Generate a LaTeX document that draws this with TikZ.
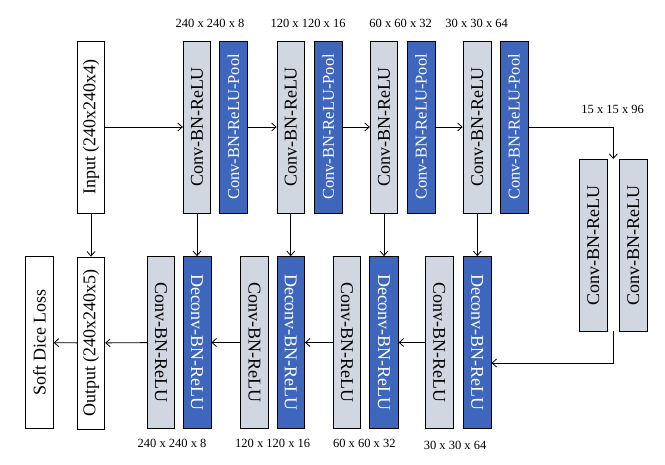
\documentclass[tikz,border=0pt]{standalone}
\usepackage{fontspec}
\setmainfont{Liberation Serif}
\usepackage{graphicx}
\usetikzlibrary{arrows.meta}
\definecolor{boxgray}{HTML}{D0D7E1}
\definecolor{boxblue}{HTML}{3D66BC}
\tikzset{
  box/.style={draw=black, line width=0.8pt, minimum width=27.5pt, minimum height=172pt, inner sep=0pt, font=\fontsize{18}{20}\selectfont},
  graybox/.style={box, fill=boxgray},
  bluebox/.style={box, fill=boxblue, text=white},
  whitebox/.style={box, fill=white},
  dimlabel/.style={font=\fontsize{12.5}{14}\selectfont, inner sep=0pt},
  arr/.style={draw=black, line width=0.8pt, -{Straight Barb[length=4.5pt,width=8pt]}},
}
\newcommand{\up}[1]{\rotatebox{90}{#1}}
\newcommand{\dn}[1]{\rotatebox{-90}{#1}}
\begin{document}
\begin{tikzpicture}[x=1pt,y=-1pt]
\useasboundingbox (0,0) rectangle (665,465);
% top row
\node[whitebox] (in) at (91,127) {\up{Input (240x240x4)}};
\node[graybox] (c1) at (197,127) {\up{Conv-BN-ReLU}};
\node[bluebox, minimum width=28.4pt] (p1) at (233.5,127) {\up{\fontsize{16.5}{18}\selectfont Conv-BN-ReLU-Pool}};
\node[graybox] (c2) at (290.8,127) {\up{Conv-BN-ReLU}};
\node[bluebox, minimum width=28pt] (p2) at (328.2,127) {\up{\fontsize{16.5}{18}\selectfont Conv-BN-ReLU-Pool}};
\node[graybox] (c3) at (384,127) {\up{Conv-BN-ReLU}};
\node[bluebox, minimum width=28pt] (p3) at (421,127) {\up{\fontsize{16.5}{18}\selectfont Conv-BN-ReLU-Pool}};
\node[graybox, minimum width=28.4pt] (c4) at (477.3,127) {\up{Conv-BN-ReLU}};
\node[bluebox, minimum width=28pt] (p4) at (514,127) {\up{\fontsize{16.5}{18}\selectfont Conv-BN-ReLU-Pool}};
% bottleneck
\node[graybox, minimum width=28pt] (bn1) at (593.3,245.2) {\up{Conv-BN-ReLU}};
\node[graybox, minimum width=28pt] (bn2) at (633.3,245.2) {\up{Conv-BN-ReLU}};
\coordinate (bntop) at (613.3,159);
\coordinate (bnbot) at (613.3,331);
% bottom row
\node[whitebox] (loss) at (39.5,342.5) {\up{Soft Dice Loss}};
\node[whitebox] (out) at (91,343) {\up{Output (240x240x5)}};
\node[graybox, minimum width=26.6pt] (g1) at (161,342.5) {\dn{Conv-BN-ReLU}};
\node[bluebox, minimum width=28pt] (d1) at (197,342.5) {\dn{Deconv-BN-ReLU}};
\node[graybox] (g2) at (254.5,342.5) {\dn{Conv-BN-ReLU}};
\node[bluebox] (d2) at (290.8,342.5) {\dn{Deconv-BN-ReLU}};
\node[graybox] (g3) at (347,342.5) {\dn{Conv-BN-ReLU}};
\node[bluebox, minimum width=28.4pt] (d3) at (384,342.5) {\dn{Deconv-BN-ReLU}};
\node[graybox] (g4) at (439.2,342.5) {\dn{Conv-BN-ReLU}};
\node[bluebox] (d4) at (477.3,342.5) {\dn{Deconv-BN-ReLU}};
% labels
\node[dimlabel] (t1) at (210,23) {240 x 240 x 8};
\node[dimlabel] (t2) at (308,23) {120 x 120 x 16};
\node[dimlabel] (t3) at (400.7,23) {60 x 60 x 32};
\node[dimlabel] (t4) at (476.7,23) {30 x 30 x 64};
\node[dimlabel] (t5) at (612.7,109) {15 x 15 x 96};
\node[dimlabel] (b1) at (172,443) {240 x 240 x 8};
\node[dimlabel] (b2) at (272.7,443) {120 x 120 x 16};
\node[dimlabel] (b3) at (364.3,443) {60 x 60 x 32};
\node[dimlabel] (b4) at (455,445) {30 x 30 x 64};
% encoder arrows
\draw[arr] (in) -- (c1);
\draw[arr] (p1) -- (c2);
\draw[arr] (p2) -- (c3);
\draw[arr] (p3) -- (c4);
\draw[arr] (p4) -| (bntop);
\draw[arr] (bnbot) |- ([yshift=-20.5pt]d4.east);
% skip arrows
\draw[arr] (in) -- (out);
\draw[arr] (c1) -- (d1);
\draw[arr] (c2) -- (d2);
\draw[arr] (c3) -- (d3);
\draw[arr] (c4) -- (d4);
% decoder arrows
\draw[arr] (g4) -- (d3);
\draw[arr] (g3) -- (d2);
\draw[arr] (g2) -- (d1);
\draw[arr] (g1) -- (out);
\draw[arr] (out) -- (loss);
\end{tikzpicture}
\end{document}
